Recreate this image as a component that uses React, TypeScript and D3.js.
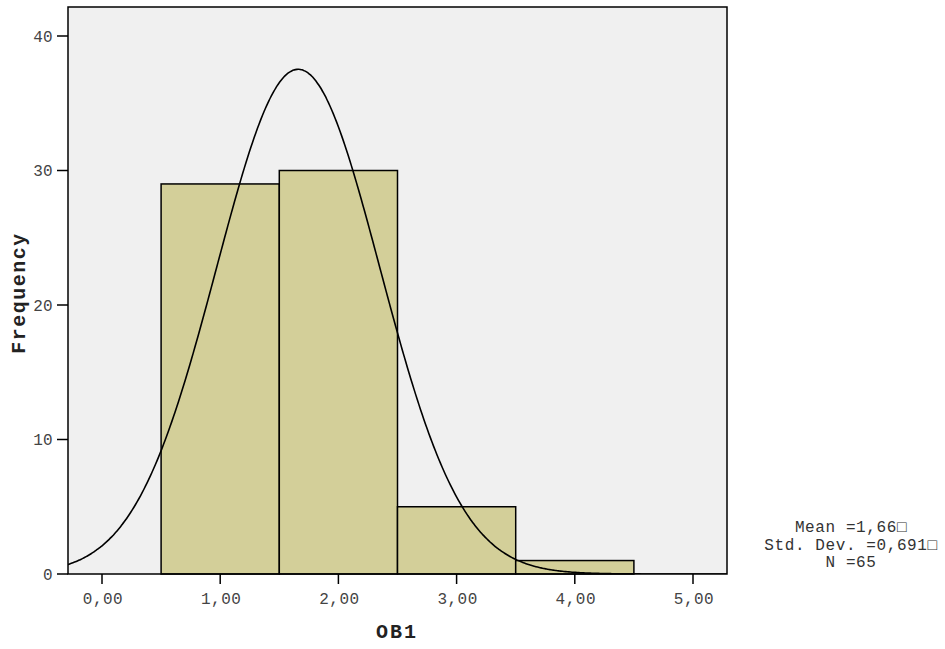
import React from "react";
import * as d3 from "d3";

const binStarts = [0.5, 1.5, 2.5, 3.5];
const binCounts = [29, 30, 5, 1];
const binWidth = 1;
const xTicks = [0, 1, 2, 3, 4, 5];
const yTicks = [0, 10, 20, 30, 40];
const mean = 1.66;
const stdDev = 0.691;
const nCount = 65;
const legendLines = ["Mean =1,66\u25A1", "Std. Dev. =0,691\u25A1", "N =65"];
const xTitle = "OB1";
const yTitle = "Frequency";

const W = 945, H = 649;
const L = 68, R = 727, T = 7, B = 574;

export default function App() {
  const x = d3.scaleLinear().domain([0, 5]).range([102, 693]);
  const xMin = x.invert(L), xMax = x.invert(R);
  const y = d3.scaleLinear().domain([0, 40]).range([B, 36]);
  const fmt = (v: number) => v.toFixed(2).replace(".", ",");
  const peak = (nCount * binWidth) / (stdDev * Math.sqrt(2 * Math.PI));
  const curvePts: [number, number][] = d3.range(0, 401).map((i) => {
    const xv = xMin + ((xMax - xMin) * i) / 400;
    const z = (xv - mean) / stdDev;
    return [xv, peak * Math.exp(-0.5 * z * z)];
  });
  const line = d3
    .line<[number, number]>()
    .x((d) => x(d[0]))
    .y((d) => y(d[1]))
    .curve(d3.curveBasis);
  const mono = "'Liberation Mono', 'Courier New', monospace";
  return (
    <svg width={W} height={H} style={{ position: "absolute", left: 0, top: 0 }}>
      <rect x={0} y={0} width={W} height={H} fill="#fff" />
      <defs>
        <clipPath id="plotclip">
          <rect x={L} y={T} width={R - L} height={B - T} />
        </clipPath>
      </defs>
      <rect x={L} y={T} width={R - L} height={B - T} fill="#f0f0f0" />
      {binStarts.map((s, i) => (
        <rect
          key={i}
          x={x(s)}
          y={y(binCounts[i])}
          width={x(s + binWidth) - x(s)}
          height={B - y(binCounts[i])}
          fill="#d3cf99"
          stroke="#000"
          strokeWidth={1.5}
        />
      ))}
      <path d={line(curvePts) || ""} fill="none" stroke="#000" strokeWidth={1.6} clipPath="url(#plotclip)" />
      <rect x={L} y={T} width={R - L} height={B - T} fill="none" stroke="#000" strokeWidth={1.5} />
      {yTicks.map((t) => (
        <g key={t}>
          <line x1={57} x2={L} y1={y(t)} y2={y(t)} stroke="#000" strokeWidth={1.5} />
          <text x={53} y={y(t)} dy="0.35em" textAnchor="end" fontFamily={mono} fontSize={16} fill="#444" letterSpacing={0.3}>
            {t}
          </text>
        </g>
      ))}
      {xTicks.map((t) => (
        <g key={t}>
          <line x1={x(t)} x2={x(t)} y1={B} y2={B + 10} stroke="#000" strokeWidth={1.5} />
          <text x={x(t) + 1} y={604} textAnchor="middle" fontFamily={mono} fontSize={16} fill="#444" letterSpacing={0.5}>
            {fmt(t)}
          </text>
        </g>
      ))}
      <text x={397} y={638} textAnchor="middle" fontFamily={mono} fontWeight="bold" fontSize={20} fill="#222" letterSpacing={2}>
        {xTitle}
      </text>
      <text
        transform={`translate(25,293) rotate(-90)`}
        textAnchor="middle"
        fontFamily={mono}
        fontWeight="bold"
        fontSize={20}
        fill="#222"
        letterSpacing={1.5}
      >
        {yTitle}
      </text>
      {legendLines.map((s, i) => (
        <text key={i} x={851} y={532 + i * 17.5} textAnchor="middle" fontFamily={mono} fontSize={16} fill="#333" letterSpacing={0.6}>
          {s}
        </text>
      ))}
    </svg>
  );
}
